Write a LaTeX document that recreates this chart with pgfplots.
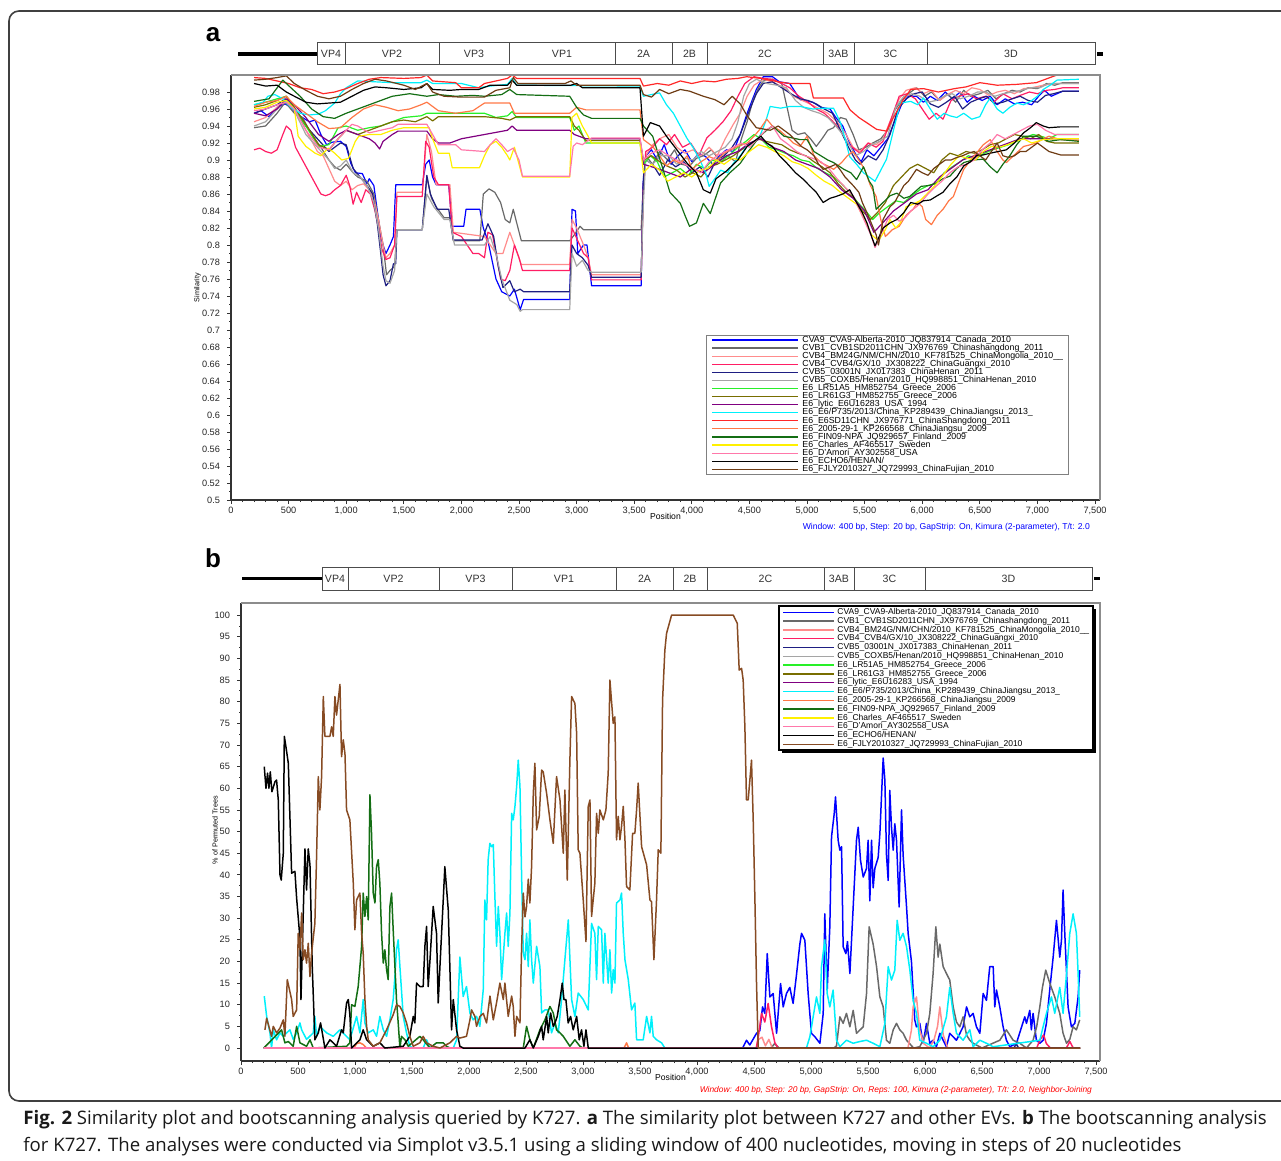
\documentclass[border=0pt]{standalone}
\usepackage{fontspec}
\setmainfont{Liberation Sans}
\newfontfamily\capfont{Open Sans}
\usepackage{pgfplots}
\pgfplotsset{compat=1.18}

\definecolor{cBlue}{RGB}{0,0,255}
\definecolor{cDGray}{RGB}{105,105,105}
\definecolor{cSalmon}{RGB}{255,140,140}
\definecolor{cCrimson}{RGB}{255,30,100}
\definecolor{cNavy}{RGB}{30,30,130}
\definecolor{cLGray}{RGB}{165,165,165}
\definecolor{cLime}{RGB}{40,240,40}
\definecolor{cOlive}{RGB}{120,110,0}
\definecolor{cPurple}{RGB}{128,0,128}
\definecolor{cCyan}{RGB}{0,240,250}
\definecolor{cRed}{RGB}{255,40,40}
\definecolor{cOrange}{RGB}{255,120,70}
\definecolor{cDGreen}{RGB}{20,110,20}
\definecolor{cYellow}{RGB}{255,240,0}
\definecolor{cPink}{RGB}{255,120,170}
\definecolor{cBrown}{RGB}{110,60,20}
\definecolor{cBrownB}{RGB}{135,75,35}

\pgfplotsset{
  panel/.style={
    scale only axis, anchor=south west,
    axis x line*=bottom, axis y line*=left,
    axis line style={black!80, line width=0.6pt},
    tick align=outside,
    major tick length=2pt, minor tick length=1pt,
    every tick/.style={black!80, line width=0.4pt},
    tick label style={font=\fontsize{4.6}{5}\selectfont, text=black!85},
    xticklabel style={yshift=2pt},
    xtick={0,500,...,7500}, minor x tick num=4,
    /pgf/number format/1000 sep={,},
    /pgf/number format/assume math mode=true,
    label style={font=\fontsize{4.3}{5}\selectfont},
    no markers,
    every axis plot/.append style={line join=round},
    after end axis/.code={\draw[black!45, line width=0.6pt] (rel axis cs:0,1) -- (rel axis cs:1,1) -- (rel axis cs:1,0);},
  },
}
% legend rows (drawn by hand beside the axes)
\newcommand\legA[3]{\draw[#1, line width=0.6pt] (712,#2) -- (798,#2);
  \node[anchor=west, inner sep=0pt, font=\fontsize{4.4}{4.6}\selectfont] at (802,#2) {#3};}
\newcommand\legB[3]{\draw[#1, line width=0.75pt] (783,#2) -- (834,#2);
  \node[anchor=west, inner sep=0pt, font=\fontsize{4.25}{4.5}\selectfont] at (837,#2) {#3};}

\begin{document}
\begin{tikzpicture}
\path[use as bounding box] (0,0) rectangle (640.5pt,-580.5pt);

% ---------------- panel a: similarity plot ----------------
\begin{axis}[panel,
  at={(115.5pt,-250pt)}, width=434.5pt, height=212.5pt,
  xmin=0, xmax=7543, ymin=0.5, ymax=1.0,
  ytick={0.5,0.52,0.54,0.56,0.58,0.6,0.62,0.64,0.66,0.68,0.7,0.72,0.74,0.76,0.78,0.8,0.82,0.84,0.86,0.88,0.9,0.92,0.94,0.96,0.98},
  minor y tick num=1,
  xlabel={Position}, ylabel={Similarity},
  xlabel style={at={(axis description cs:0.5,0)}, anchor=center, yshift=-8pt},
  ylabel style={at={(axis description cs:-0.0385,0.5)}, anchor=center, font=\fontsize{3.6}{4}\selectfont},
  every axis plot/.append style={line width=0.6pt},
]
\addplot[cBlue] coordinates {(200,.955)(260,.958)(330,.951)(400,.962)(470,.966)(520,.962)(560,.955)(620,.950)(680,.945)(730,.947)(780,.930)(830,.918)(880,.921)(950,.922)(1000,.916)(1040,.896)(1080,.885)(1140,.884)(1180,.872)(1200,.878)(1240,.870)(1270,.840)(1300,.810)(1320,.800)(1345,.790)(1380,.800)(1410,.810)(1430,.871)(1660,.871)(1690,.895)(1720,.900)(1750,.880)(1780,.871)(1890,.871)(1920,.822)(2020,.822)(2040,.842)(2160,.842)(2190,.820)(2230,.805)(2300,.760)(2350,.745)(2420,.740)(2460,.748)(2510,.724)(2540,.736)(2940,.736)(2960,.842)(2990,.840)(3010,.790)(3060,.800)(3090,.800)(3130,.752)(3560,.752)(3575,.870)(3600,.905)(3650,.912)(3700,.900)(3760,.918)(3820,.895)(3880,.905)(3940,.912)(4000,.898)(4060,.908)(4120,.904)(4180,.895)(4240,.905)(4300,.912)(4360,.910)(4420,.930)(4480,.955)(4560,.983)(4620,.998)(4700,.998)(4760,.992)(4850,.990)(4940,.971)(5050,.968)(5120,.962)(5200,.960)(5250,.950)(5310,.940)(5370,.920)(5430,.905)(5470,.898)(5520,.912)(5580,.905)(5640,.915)(5700,.925)(5760,.945)(5820,.965)(5880,.975)(5950,.975)(6010,.968)(6070,.975)(6130,.970)(6200,.980)(6260,.972)(6330,.980)(6390,.968)(6450,.975)(6520,.970)(6590,.975)(6650,.965)(6720,.972)(6800,.966)(6870,.968)(6950,.965)(7010,.975)(7060,.982)(7120,.975)(7170,.978)(7220,.981)(7360,.981)};
\addplot[cDGray] coordinates {(200,.938)(300,.940)(400,.955)(470,.968)(550,.955)(620,.950)(700,.930)(780,.915)(850,.900)(900,.892)(950,.888)(1000,.895)(1060,.885)(1100,.880)(1180,.875)(1240,.860)(1280,.830)(1320,.800)(1350,.765)(1380,.770)(1420,.775)(1440,.818)(1660,.818)(1700,.880)(1740,.855)(1780,.845)(1850,.832)(1900,.832)(1930,.805)(2160,.805)(2190,.860)(2240,.866)(2290,.862)(2340,.850)(2380,.830)(2420,.826)(2450,.842)(2480,.826)(2520,.805)(2940,.805)(2980,.812)(3030,.822)(3060,.818)(3560,.818)(3575,.860)(3600,.905)(3660,.895)(3720,.910)(3790,.900)(3850,.912)(3910,.895)(3980,.893)(4040,.902)(4100,.905)(4170,.912)(4240,.900)(4310,.905)(4380,.898)(4430,.925)(4480,.945)(4530,.970)(4580,.985)(4620,.993)(4700,.995)(4780,.990)(4830,.960)(4870,.935)(4920,.930)(4980,.932)(5030,.925)(5080,.916)(5130,.925)(5180,.935)(5230,.938)(5290,.950)(5340,.948)(5400,.930)(5450,.912)(5510,.915)(5570,.920)(5640,.925)(5700,.935)(5760,.958)(5820,.970)(5880,.978)(5950,.985)(6020,.975)(6080,.980)(6150,.970)(6220,.978)(6290,.968)(6360,.982)(6420,.975)(6500,.978)(6570,.982)(6640,.972)(6710,.978)(6780,.982)(6850,.980)(6920,.985)(7000,.984)(7080,.990)(7150,.988)(7220,.991)(7360,.991)};
\addplot[cSalmon] coordinates {(200,.945)(300,.950)(400,.962)(470,.970)(550,.962)(650,.935)(750,.910)(800,.905)(850,.890)(900,.875)(950,.870)(1000,.875)(1050,.865)(1100,.870)(1150,.872)(1200,.865)(1240,.855)(1280,.830)(1320,.800)(1345,.785)(1380,.790)(1420,.800)(1440,.862)(1660,.862)(1700,.930)(1740,.910)(1780,.871)(1900,.871)(1930,.815)(2200,.810)(2250,.800)(2300,.790)(2360,.790)(2420,.815)(2460,.800)(2520,.777)(2940,.777)(2960,.830)(3000,.820)(3060,.800)(3100,.785)(3130,.765)(3560,.765)(3580,.870)(3600,.905)(3660,.918)(3720,.925)(3800,.930)(3870,.915)(3940,.908)(4010,.912)(4080,.905)(4150,.915)(4220,.905)(4290,.925)(4360,.942)(4420,.955)(4480,.975)(4540,.988)(4620,.995)(4700,.992)(4800,.985)(4880,.975)(4960,.970)(5040,.965)(5110,.960)(5180,.955)(5260,.945)(5330,.932)(5400,.915)(5460,.910)(5530,.920)(5600,.918)(5660,.925)(5740,.952)(5800,.972)(5860,.982)(5940,.985)(6010,.978)(6080,.982)(6150,.970)(6220,.977)(6290,.982)(6360,.978)(6430,.985)(6500,.983)(6580,.976)(6650,.980)(6720,.982)(6800,.978)(6880,.984)(6950,.985)(7050,.988)(7150,.990)(7360,.990)};
\addplot[cCrimson] coordinates {(200,.912)(250,.914)(300,.910)(350,.908)(400,.912)(450,.930)(480,.940)(520,.935)(560,.915)(620,.900)(680,.885)(740,.870)(780,.860)(820,.858)(860,.860)(900,.865)(950,.870)(1000,.882)(1030,.870)(1060,.848)(1090,.862)(1130,.850)(1170,.865)(1210,.860)(1250,.840)(1280,.820)(1310,.795)(1345,.783)(1380,.785)(1420,.800)(1440,.857)(1660,.857)(1690,.922)(1720,.915)(1760,.880)(1800,.871)(1890,.871)(1920,.815)(2000,.810)(2100,.790)(2150,.790)(2200,.785)(2230,.815)(2270,.812)(2300,.790)(2340,.760)(2380,.758)(2420,.770)(2460,.800)(2500,.785)(2530,.770)(2940,.770)(2960,.820)(3000,.808)(3060,.790)(3100,.785)(3130,.759)(3560,.759)(3580,.870)(3600,.910)(3660,.915)(3720,.925)(3780,.918)(3850,.930)(3920,.915)(3990,.920)(4060,.905)(4130,.926)(4200,.935)(4270,.945)(4340,.958)(4400,.975)(4460,.990)(4540,.998)(4620,.996)(4700,.995)(4780,.990)(4850,.985)(4930,.975)(5010,.968)(5080,.960)(5150,.955)(5220,.946)(5290,.935)(5350,.920)(5420,.912)(5460,.908)(5530,.920)(5600,.915)(5660,.922)(5740,.952)(5800,.975)(5870,.978)(5940,.972)(6000,.960)(6060,.948)(6120,.955)(6180,.948)(6250,.970)(6320,.975)(6400,.978)(6470,.972)(6550,.975)(6620,.968)(6700,.978)(6780,.972)(6850,.976)(6930,.980)(7000,.978)(7080,.982)(7150,.983)(7220,.985)(7360,.985)};
\addplot[cNavy] coordinates {(200,.955)(300,.960)(400,.965)(470,.972)(550,.960)(650,.940)(750,.925)(850,.910)(950,.920)(1000,.918)(1060,.890)(1120,.880)(1180,.870)(1230,.860)(1270,.825)(1300,.790)(1320,.765)(1345,.752)(1380,.758)(1410,.778)(1430,.778)(1440,.818)(1660,.818)(1700,.882)(1730,.860)(1790,.842)(1890,.842)(1930,.806)(2180,.806)(2230,.825)(2280,.810)(2320,.775)(2360,.750)(2420,.758)(2460,.745)(2510,.748)(2540,.745)(2940,.745)(2960,.800)(3000,.790)(3050,.785)(3100,.776)(3130,.762)(3560,.762)(3580,.880)(3600,.900)(3660,.895)(3720,.882)(3790,.900)(3860,.892)(3930,.898)(4000,.885)(4070,.892)(4140,.880)(4210,.900)(4280,.905)(4350,.915)(4420,.930)(4490,.955)(4560,.978)(4620,.990)(4700,.992)(4780,.985)(4860,.978)(4940,.972)(5010,.970)(5080,.966)(5150,.960)(5220,.955)(5290,.935)(5360,.915)(5420,.900)(5460,.895)(5530,.905)(5600,.900)(5660,.912)(5720,.930)(5790,.960)(5860,.972)(5930,.978)(6000,.980)(6070,.966)(6140,.962)(6210,.968)(6280,.975)(6350,.960)(6420,.968)(6490,.972)(6560,.975)(6630,.966)(6700,.968)(6780,.972)(6850,.975)(6920,.970)(7000,.968)(7070,.976)(7140,.978)(7220,.981)(7360,.981)};
\addplot[cLGray] coordinates {(200,.940)(300,.945)(400,.960)(470,.970)(550,.958)(650,.930)(750,.915)(850,.900)(900,.890)(950,.893)(1000,.900)(1060,.885)(1120,.880)(1180,.870)(1240,.850)(1280,.820)(1320,.775)(1345,.758)(1380,.755)(1420,.770)(1440,.818)(1660,.818)(1700,.860)(1760,.845)(1850,.830)(1900,.830)(1940,.800)(2200,.800)(2250,.810)(2300,.790)(2350,.760)(2420,.735)(2480,.730)(2510,.722)(2530,.724)(2940,.724)(2960,.790)(3000,.775)(3050,.782)(3100,.770)(3130,.768)(3560,.768)(3580,.850)(3600,.900)(3660,.895)(3730,.905)(3800,.905)(3870,.895)(3940,.902)(4010,.900)(4080,.910)(4150,.905)(4220,.910)(4290,.915)(4350,.925)(4400,.945)(4450,.975)(4500,.990)(4560,.995)(4650,.990)(4740,.988)(4820,.985)(4900,.970)(4970,.962)(5040,.958)(5110,.955)(5180,.950)(5250,.940)(5310,.930)(5380,.915)(5420,.905)(5490,.910)(5560,.918)(5630,.922)(5700,.928)(5770,.962)(5840,.975)(5910,.978)(5980,.975)(6050,.968)(6120,.970)(6190,.975)(6260,.978)(6330,.972)(6400,.975)(6480,.980)(6550,.980)(6630,.975)(6700,.978)(6780,.980)(6860,.982)(6940,.985)(7020,.985)(7100,.990)(7180,.990)(7360,.990)};
\addplot[cLime] coordinates {(200,.965)(300,.968)(400,.972)(480,.975)(550,.960)(650,.940)(760,.916)(850,.918)(930,.938)(1000,.940)(1100,.935)(1200,.938)(1300,.940)(1400,.945)(1500,.950)(1650,.952)(1700,.955)(1800,.955)(2000,.955)(2200,.955)(2300,.950)(2400,.952)(2440,.957)(2480,.950)(2940,.950)(2980,.935)(3020,.940)(3080,.920)(3550,.920)(3580,.895)(3640,.905)(3700,.898)(3760,.880)(3830,.885)(3900,.890)(3970,.882)(4040,.895)(4110,.890)(4180,.900)(4250,.898)(4320,.905)(4400,.915)(4470,.922)(4540,.930)(4600,.925)(4670,.915)(4740,.912)(4810,.908)(4880,.905)(4950,.900)(5020,.898)(5090,.890)(5160,.885)(5230,.880)(5300,.872)(5370,.862)(5440,.850)(5510,.840)(5570,.830)(5630,.838)(5700,.845)(5770,.852)(5840,.850)(5910,.858)(5980,.865)(6050,.870)(6120,.872)(6190,.885)(6260,.892)(6330,.898)(6400,.905)(6470,.902)(6540,.908)(6610,.912)(6680,.915)(6750,.918)(6820,.922)(6890,.926)(6960,.930)(7030,.928)(7100,.925)(7170,.930)(7360,.930)};
\addplot[cOlive] coordinates {(200,.962)(300,.965)(400,.970)(480,.975)(550,.962)(650,.942)(760,.918)(850,.912)(930,.925)(1000,.935)(1100,.930)(1200,.935)(1300,.940)(1400,.945)(1500,.947)(1600,.945)(1700,.951)(1750,.946)(1800,.951)(2000,.951)(2200,.951)(2350,.949)(2420,.947)(2480,.951)(2940,.951)(2980,.940)(3020,.935)(3080,.923)(3550,.923)(3580,.900)(3650,.905)(3720,.898)(3800,.892)(3870,.888)(3940,.880)(4010,.885)(4080,.880)(4150,.892)(4220,.895)(4290,.900)(4360,.905)(4430,.912)(4500,.918)(4570,.925)(4640,.922)(4710,.920)(4780,.918)(4850,.912)(4920,.908)(4990,.905)(5060,.898)(5130,.892)(5200,.885)(5270,.872)(5340,.862)(5410,.855)(5480,.840)(5550,.830)(5610,.838)(5680,.850)(5750,.870)(5820,.880)(5890,.890)(5960,.895)(6030,.890)(6100,.885)(6170,.900)(6240,.908)(6310,.905)(6380,.910)(6450,.908)(6520,.912)(6590,.918)(6660,.920)(6730,.925)(6800,.930)(6870,.928)(6940,.925)(7010,.930)(7080,.922)(7150,.920)(7360,.920)};
\addplot[cPurple] coordinates {(200,.955)(300,.952)(400,.960)(480,.972)(550,.965)(650,.950)(760,.930)(850,.922)(930,.930)(1000,.935)(1100,.930)(1200,.925)(1250,.920)(1290,.913)(1320,.922)(1400,.930)(1450,.934)(1700,.934)(1750,.925)(1800,.920)(1900,.920)(2000,.925)(2200,.930)(2400,.935)(2440,.940)(2480,.935)(2940,.935)(2980,.930)(3080,.925)(3550,.925)(3580,.895)(3700,.890)(3800,.885)(3900,.880)(4000,.890)(4100,.885)(4200,.895)(4300,.905)(4400,.910)(4500,.920)(4600,.925)(4700,.915)(4800,.910)(4900,.900)(5000,.895)(5100,.890)(5200,.880)(5300,.865)(5400,.855)(5500,.840)(5580,.815)(5650,.825)(5750,.840)(5850,.850)(5950,.860)(6050,.865)(6150,.880)(6250,.890)(6350,.900)(6450,.905)(6550,.910)(6650,.915)(6750,.920)(6850,.925)(6950,.925)(7100,.925)(7360,.925)};
\addplot[cCyan] coordinates {(200,.965)(280,.968)(320,.975)(380,.977)(450,.972)(520,.962)(600,.955)(680,.953)(760,.954)(820,.958)(900,.967)(950,.978)(1000,.985)(1100,.993)(1250,.992)(1400,.991)(1650,.991)(1700,.994)(1750,.990)(2000,.990)(2150,.985)(2250,.987)(2400,.989)(2440,.996)(2480,.988)(3550,.987)(3580,.975)(3720,.979)(3780,.965)(3840,.955)(3900,.940)(3960,.925)(4010,.915)(4070,.900)(4120,.885)(4150,.869)(4200,.878)(4250,.888)(4310,.885)(4360,.896)(4420,.905)(4475,.916)(4530,.920)(4590,.928)(4640,.945)(4680,.963)(4770,.961)(4850,.963)(4940,.963)(5050,.960)(5150,.961)(5230,.961)(5290,.944)(5330,.925)(5370,.904)(5430,.895)(5490,.885)(5540,.880)(5590,.875)(5640,.888)(5690,.901)(5750,.935)(5810,.967)(5900,.969)(5960,.965)(6010,.973)(6070,.960)(6130,.948)(6190,.955)(6240,.952)(6300,.950)(6360,.955)(6430,.948)(6500,.951)(6550,.965)(6590,.973)(6650,.960)(6700,.955)(6760,.962)(6820,.967)(6880,.965)(6940,.969)(7000,.975)(7050,.983)(7110,.988)(7170,.994)(7360,.995)};
\addplot[cRed] coordinates {(200,.997)(300,.996)(400,.993)(500,.990)(600,.985)(700,.983)(800,.978)(900,.980)(1000,.984)(1100,.990)(1200,.995)(1300,.997)(1500,.996)(1650,.997)(1700,1.0)(1750,.993)(1950,.991)(2000,.985)(2150,.985)(2200,.990)(2300,.993)(2400,.996)(2440,1.0)(2480,.996)(3550,.996)(3580,.987)(3700,.990)(3800,.988)(3900,.993)(4000,.990)(4100,.993)(4200,.992)(4300,.995)(4400,.996)(4475,.998)(4600,.996)(4750,.992)(4850,.990)(5026,.990)(5055,.973)(5315,.973)(5373,.959)(5450,.950)(5517,.944)(5605,.936)(5690,.934)(5750,.950)(5836,.971)(5900,.983)(6010,.984)(6140,.980)(6280,.984)(6380,.986)(6500,.991)(6650,.988)(6820,.989)(6990,.991)(7109,.997)(7170,1.0)(7360,1.0)};
\addplot[cOrange] coordinates {(200,.963)(300,.968)(400,.970)(480,.975)(550,.965)(650,.955)(750,.945)(850,.937)(950,.938)(1050,.950)(1150,.960)(1250,.965)(1350,.962)(1450,.958)(1550,.960)(1650,.965)(1700,.968)(1800,.958)(1950,.955)(2100,.958)(2200,.967)(2420,.967)(2460,.955)(2940,.955)(3000,.962)(3080,.959)(3550,.959)(3580,.924)(3660,.916)(3720,.905)(3780,.893)(3840,.900)(3900,.896)(3960,.905)(4000,.889)(4080,.898)(4150,.904)(4220,.900)(4280,.908)(4340,.912)(4400,.916)(4480,.920)(4540,.928)(4590,.936)(4650,.948)(4700,.940)(4760,.935)(4820,.928)(4880,.920)(4940,.916)(5000,.928)(5060,.905)(5120,.897)(5180,.893)(5230,.889)(5300,.897)(5350,.905)(5400,.910)(5450,.900)(5500,.889)(5550,.870)(5600,.857)(5640,.830)(5680,.810)(5740,.818)(5800,.822)(5860,.835)(5920,.842)(5960,.850)(6000,.845)(6030,.830)(6080,.824)(6130,.835)(6180,.842)(6230,.852)(6270,.857)(6320,.875)(6360,.889)(6420,.900)(6470,.908)(6530,.918)(6590,.924)(6650,.910)(6700,.900)(6730,.897)(6800,.906)(6880,.916)(6940,.918)(6990,.920)(7050,.925)(7100,.928)(7200,.924)(7360,.923)};
\addplot[cDGreen] coordinates {(200,.969)(330,.972)(450,.994)(520,.985)(600,.975)(700,.960)(800,.951)(900,.949)(1000,.955)(1100,.960)(1200,.965)(1300,.970)(1400,.975)(1550,.978)(1700,.975)(1800,.977)(1950,.975)(2100,.976)(2200,.975)(2350,.977)(2420,.983)(2480,.977)(2940,.975)(3000,.962)(3060,.953)(3130,.949)(3550,.949)(3580,.940)(3660,.928)(3750,.889)(3810,.862)(3900,.849)(3940,.835)(3980,.822)(4040,.826)(4100,.849)(4160,.837)(4250,.873)(4330,.885)(4420,.896)(4480,.908)(4590,.928)(4650,.935)(4700,.940)(4800,.928)(4940,.924)(5000,.924)(5060,.910)(5120,.905)(5180,.900)(5230,.897)(5320,.889)(5380,.885)(5430,.877)(5490,.892)(5540,.875)(5570,.869)(5600,.842)(5660,.850)(5720,.858)(5780,.861)(5840,.855)(5890,.857)(5990,.869)(6060,.870)(6120,.873)(6180,.878)(6240,.881)(6300,.890)(6360,.897)(6440,.900)(6530,.901)(6590,.892)(6650,.885)(6700,.895)(6760,.905)(6820,.918)(6880,.928)(6990,.928)(7100,.922)(7200,.924)(7360,.922)};
\addplot[cYellow] coordinates {(200,.960)(300,.962)(400,.968)(480,.970)(550,.960)(583,.928)(650,.916)(730,.908)(780,.905)(845,.914)(900,.908)(962,.900)(1020,.902)(1079,.922)(1110,.928)(1200,.930)(1300,.930)(1400,.935)(1500,.938)(1720,.938)(1750,.925)(1800,.908)(1895,.908)(1920,.891)(2157,.891)(2200,.905)(2250,.918)(2300,.922)(2350,.915)(2400,.905)(2420,.900)(2460,.915)(2500,.895)(2530,.880)(2940,.880)(2960,.950)(3000,.955)(3050,.940)(3100,.928)(3130,.920)(3550,.920)(3580,.885)(3650,.895)(3720,.888)(3790,.875)(3860,.880)(3930,.885)(4000,.880)(4070,.888)(4140,.890)(4210,.900)(4280,.895)(4350,.902)(4420,.900)(4500,.910)(4580,.918)(4650,.915)(4720,.910)(4800,.905)(4870,.898)(4940,.895)(5010,.890)(5080,.882)(5150,.875)(5220,.870)(5290,.862)(5360,.855)(5430,.848)(5500,.830)(5560,.812)(5620,.805)(5680,.818)(5720,.830)(5770,.820)(5810,.826)(5860,.845)(5920,.848)(5980,.852)(6040,.860)(6110,.870)(6180,.882)(6250,.895)(6320,.905)(6390,.902)(6460,.900)(6530,.910)(6600,.916)(6670,.915)(6740,.918)(6810,.922)(6880,.925)(6950,.920)(7050,.924)(7150,.925)(7360,.925)};
\addplot[cPink] coordinates {(200,.958)(300,.960)(400,.965)(480,.968)(550,.960)(650,.935)(760,.915)(850,.912)(930,.925)(1000,.935)(1050,.942)(1100,.940)(1200,.932)(1300,.935)(1400,.938)(1450,.942)(1700,.942)(1750,.930)(1800,.918)(1950,.918)(2000,.912)(2200,.910)(2250,.918)(2300,.925)(2350,.918)(2400,.910)(2450,.914)(2500,.900)(2530,.881)(2940,.881)(2970,.916)(3000,.920)(3050,.918)(3130,.926)(3550,.926)(3580,.900)(3650,.908)(3720,.912)(3800,.905)(3870,.900)(3940,.895)(4010,.890)(4080,.885)(4150,.898)(4220,.905)(4290,.910)(4360,.915)(4430,.920)(4500,.915)(4570,.925)(4640,.935)(4700,.940)(4770,.925)(4840,.918)(4910,.910)(4980,.905)(5050,.902)(5120,.898)(5190,.890)(5260,.878)(5330,.868)(5400,.858)(5460,.840)(5520,.822)(5560,.810)(5590,.797)(5650,.815)(5700,.830)(5750,.835)(5800,.828)(5850,.832)(5900,.840)(5950,.845)(6000,.852)(6050,.860)(6110,.868)(6170,.875)(6240,.885)(6310,.892)(6380,.895)(6450,.900)(6520,.912)(6590,.920)(6650,.930)(6720,.925)(6790,.930)(6860,.935)(6930,.940)(7000,.942)(7070,.935)(7150,.930)(7360,.930)};
\addplot[black] coordinates {(200,.990)(300,.987)(400,.988)(480,.980)(550,.975)(650,.968)(750,.966)(850,.967)(950,.968)(1050,.975)(1150,.982)(1250,.986)(1350,.985)(1500,.983)(1650,.985)(1700,.990)(1750,.983)(1900,.982)(2000,.983)(2150,.983)(2250,.988)(2400,.988)(2440,.994)(2480,.988)(2950,.988)(3000,.990)(3050,.985)(3550,.985)(3580,.928)(3640,.944)(3720,.940)(3780,.928)(3870,.912)(3960,.896)(4040,.885)(4100,.865)(4160,.861)(4210,.878)(4300,.887)(4400,.900)(4480,.916)(4540,.922)(4600,.928)(4650,.920)(4700,.916)(4760,.905)(4820,.897)(4900,.885)(4970,.877)(5020,.870)(5080,.862)(5140,.850)(5200,.855)(5250,.857)(5310,.860)(5370,.865)(5430,.850)(5480,.838)(5520,.826)(5560,.810)(5590,.799)(5620,.808)(5660,.820)(5720,.826)(5780,.830)(5840,.838)(5900,.850)(5960,.848)(6010,.852)(6070,.853)(6130,.858)(6180,.862)(6240,.872)(6300,.880)(6360,.893)(6420,.898)(6470,.905)(6530,.906)(6590,.908)(6660,.910)(6730,.912)(6800,.920)(6880,.932)(6940,.938)(6990,.944)(7050,.940)(7100,.938)(7200,.939)(7360,.939)};
\addplot[cBrown] coordinates {(200,.994)(300,.995)(400,.997)(480,.999)(550,.990)(650,.982)(750,.975)(850,.972)(950,.975)(1050,.983)(1150,.990)(1250,.995)(1350,.993)(1500,.988)(1600,.983)(1700,.990)(1750,.980)(1850,.975)(2000,.974)(2200,.974)(2300,.982)(2420,.985)(2450,.997)(2490,.990)(2900,.990)(2950,.993)(3000,.988)(3550,.988)(3580,.977)(3650,.974)(3720,.983)(3800,.978)(3900,.983)(3980,.981)(4100,.975)(4200,.971)(4280,.965)(4350,.975)(4420,.966)(4480,.952)(4560,.938)(4680,.935)(4750,.940)(4850,.930)(4950,.916)(5000,.912)(5060,.905)(5100,.895)(5140,.889)(5200,.892)(5250,.895)(5290,.888)(5330,.880)(5400,.870)(5450,.862)(5480,.850)(5520,.838)(5560,.825)(5600,.812)(5620,.800)(5660,.830)(5720,.845)(5760,.850)(5800,.860)(5840,.870)(5880,.875)(5950,.889)(6000,.885)(6050,.882)(6100,.890)(6150,.895)(6200,.900)(6250,.900)(6300,.903)(6350,.905)(6400,.908)(6450,.910)(6500,.905)(6550,.900)(6600,.910)(6650,.920)(6700,.905)(6750,.903)(6800,.905)(6850,.910)(6900,.910)(6950,.915)(7000,.920)(7050,.915)(7100,.910)(7150,.908)(7200,.906)(7360,.906)};
\end{axis}

% ---------------- panel b: bootscanning ----------------
\begin{axis}[panel,
  at={(120.5pt,-530.5pt)}, width=429.5pt, height=229pt,
  xmin=0, xmax=7535, ymin=-3, ymax=102.8,
  ytick={0,5,...,100}, minor y tick num=1,
  xlabel={Position}, ylabel={\% of Permuted Trees},
  xlabel style={at={(axis description cs:0.5,0)}, anchor=center, yshift=-8pt},
  ylabel style={at={(axis description cs:-0.0303,0.504)}, anchor=center, font=\fontsize{3.6}{4}\selectfont},
  every axis plot/.append style={line width=0.75pt},
]
\addplot[cBlue] coordinates {(200,0)(4400,0)(4434,1.8)(4463,0.7)(4522,3.4)(4551,4)(4575,9.5)(4595,8)(4616,21.8)(4639,11.8)(4668,12.6)(4698,3.4)(4733,14.9)(4756,9.5)(4785,12.6)(4814,14)(4843,10.3)(4873,17)(4902,24)(4917,26.5)(4946,24.9)(4975,12.6)(5004,3.4)(5034,2.6)(5078,1.1)(5107,8)(5121,31)(5142,13.4)(5165,28)(5180,48.8)(5203,54)(5215,58)(5238,48)(5253,45.7)(5268,46.5)(5282,23.4)(5306,21.8)(5320,24.6)(5341,17.2)(5370,32.6)(5399,48)(5414,51)(5434,43.4)(5458,39.5)(5487,41.5)(5501,48)(5516,34)(5531,48)(5545,37)(5560,41.5)(5589,44)(5604,49.5)(5633,67)(5648,61.8)(5662,44.6)(5677,38.7)(5691,59.5)(5706,51)(5721,45.7)(5735,51.8)(5750,48)(5773,32.6)(5794,55)(5808,44.6)(5838,32.6)(5852,26.5)(5881,20)(5910,6.5)(5925,4.9)(5954,5.7)(5983,1.1)(6013,5.7)(6042,1.1)(6071,1.8)(6100,0.3)(6130,3.4)(6159,1.8)(6188,0.3)(6217,3.4)(6276,1.8)(6334,4.9)(6364,9.5)(6393,7.2)(6422,8)(6451,4.9)(6481,3.4)(6510,12.6)(6539,11)(6568,18.8)(6598,18.8)(6612,9.5)(6627,13.4)(6656,9.5)(6685,4.9)(6714,1.8)(6744,0.3)(6802,1.1)(6875,7.2)(6890,5.7)(6919,8.7)(6933,4.2)(6948,8)(6977,1.8)(7007,1.1)(7036,1.8)(7065,5.7)(7094,13.4)(7124,21)(7153,29.5)(7182,21)(7197,24.9)(7211,36.5)(7226,26.5)(7255,9.5)(7284,4.9)(7314,5.7)(7343,11.8)(7357,18)};
\addplot[cDGray] coordinates {(200,0)(4650,0)(4680,1)(4720,0)(5200,0)(5224,0.5)(5253,7.2)(5282,5.7)(5311,8)(5341,4.9)(5370,8.7)(5399,3.4)(5458,4.9)(5487,12.6)(5510,28)(5545,24)(5575,18.8)(5604,11.8)(5633,9.5)(5662,1.8)(5691,1.1)(5721,4.2)(5750,5.7)(5779,4.2)(5808,3.4)(5838,1.8)(5900,0)(5954,0.3)(6013,3.4)(6042,8)(6071,17.2)(6095,28)(6115,21)(6130,24)(6159,18.8)(6188,17.2)(6217,15.7)(6247,9.5)(6276,6)(6305,4.9)(6334,7.2)(6364,3)(6393,1.8)(6422,1.1)(6500,0)(6656,1.8)(6714,4.2)(6773,1.8)(6831,1.1)(6890,0)(6948,1.8)(6980,5)(7007,9.5)(7030,14)(7059,18)(7094,15)(7138,11.8)(7182,8)(7211,3.4)(7241,1.1)(7270,2)(7299,4.9)(7328,4.2)(7357,6.5)};
\addplot[cSalmon] coordinates {(200,0)(4520,0)(4540,2)(4570,2.5)(4600,0.5)(4630,2)(4660,0)(5850,0)(5880,4)(5896,9.5)(5925,11.8)(5954,4)(5990,1)(6040,0)(6080,2)(6110,5)(6130,9.5)(6160,3)(6200,0)(7360,0)};
\addplot[cCrimson] coordinates {(200,0)(4520,0)(4540,3)(4566,8)(4595,6)(4624,10.3)(4653,5)(4683,1.2)(4712,0)(6980,0)(7010,2)(7040,3)(7065,1)(7100,0)(7240,0)(7270,1.5)(7300,0)(7360,0)};
\addplot[cNavy] coordinates {(200,0)(6780,0)(6800,1)(6820,0)(7360,0)};
\addplot[cLGray] coordinates {(200,0)(7360,0)};
\addplot[cLime] coordinates {(200,0)(7360,0)};
\addplot[cOlive] coordinates {(200,0)(7360,0)};
\addplot[cPurple] coordinates {(200,0)(7360,0)};
\addplot[cCyan] coordinates {(204,12)(225,7.3)(254,3.5)(268,0)(283,4.2)(312,1.9)(342,3.5)(371,2.7)(400,3.5)(429,4.2)(458,2)(488,3.5)(517,5.8)(532,4.2)(575,2)(634,3.5)(648,7.3)(663,2.7)(692,5)(751,3.5)(809,2.7)(868,4.2)(955,1.9)(1014,7.3)(1043,3.5)(1072,11.2)(1087,5.8)(1116,3.5)(1160,4.2)(1189,2.7)(1218,7.3)(1248,4.2)(1277,2.7)(1306,6.5)(1335,11.2)(1350,16.5)(1364,22.7)(1379,25)(1394,18.8)(1423,7.3)(1452,3.5)(1481,0.4)(1511,0)(1598,0)(1628,1.9)(1657,0)(1862,0)(1891,1.9)(1920,21)(1949,11.9)(1978,14.2)(2008,8.1)(2037,6.5)(2066,7.3)(2095,5)(2125,13.5)(2139,34.2)(2154,29.6)(2168,43.5)(2183,47.3)(2198,46.5)(2213,47)(2227,35)(2242,23.5)(2257,32.7)(2271,26.5)(2286,15.8)(2315,26.5)(2330,31.2)(2344,23.5)(2359,31.2)(2374,54.2)(2388,52.7)(2403,55.8)(2418,60.4)(2432,66.5)(2447,60.4)(2461,40.4)(2476,21.9)(2491,20.4)(2505,26.5)(2520,18.8)(2534,29.6)(2549,20.4)(2564,15)(2593,23.5)(2622,18.8)(2637,8.1)(2666,8.8)(2695,8.8)(2724,3.5)(2754,5.8)(2783,3.5)(2812,11.2)(2841,20.4)(2871,29.6)(2900,11.2)(2929,7.3)(2958,12.7)(3002,11.2)(3046,8.8)(3075,28.8)(3104,26.5)(3119,15.8)(3134,28.1)(3163,27.3)(3178,15)(3192,26.5)(3221,15)(3236,22.7)(3251,12.7)(3265,18.1)(3280,15)(3294,33.5)(3324,34.2)(3338,35.8)(3353,26.5)(3368,20.4)(3397,15.8)(3426,8.8)(3455,10.4)(3470,1.9)(3528,1.9)(3558,7.3)(3587,3.5)(3601,7.3)(3616,2.7)(3645,1.9)(3689,1.2)(3718,0)(4960,0)(4990,2.6)(5048,11.8)(5078,8)(5092,18.8)(5121,25)(5142,12.6)(5165,9.5)(5194,13.4)(5224,1.8)(5253,0.3)(5311,1.8)(5370,1.1)(5428,1.5)(5487,1.8)(5545,1.1)(5604,0.3)(5648,5.7)(5677,18.8)(5706,15.7)(5735,18)(5756,29.5)(5779,24.9)(5808,26.5)(5838,23.4)(5867,18)(5896,11)(5925,8)(5954,1.8)(6013,1.1)(6071,0.3)(6130,1.8)(6188,7.2)(6217,14)(6247,8)(6276,3.4)(6334,1.8)(6393,4.2)(6422,0.3)(6481,1.8)(6539,1.1)(6598,0.3)(7007,1.8)(7065,8)(7109,11.8)(7138,8)(7182,14)(7211,8)(7241,17)(7270,26.5)(7299,31)(7328,26.5)(7343,17.2)(7357,7.2)};
\addplot[cOrange] coordinates {(200,0)(990,0)(1014,1)(1043,1.2)(1072,0.8)(1100,0)(3360,0)(3382,1.2)(3400,0)(7360,0)};
\addplot[cDGreen] coordinates {(200,0)(356,4.2)(385,1.2)(415,1.5)(458,0.4)(488,5)(517,1.2)(575,0.4)(605,1.9)(634,0)(926,0.4)(955,1.2)(970,10)(999,9.6)(1028,14.2)(1043,18.8)(1058,23.5)(1072,35.8)(1087,30.4)(1102,35)(1116,29.6)(1131,58.5)(1145,49.6)(1160,35.8)(1175,33.5)(1189,41.9)(1204,43.5)(1218,38.1)(1233,26.5)(1248,19.6)(1262,22.7)(1277,18.1)(1291,15.8)(1306,32.7)(1321,35.8)(1335,27.3)(1364,11.2)(1379,5.8)(1394,0)(1408,2.7)(1438,1.9)(1467,0.4)(1569,2.7)(1598,1.9)(1657,0)(1715,1.2)(1774,1.2)(1803,0.4)(1832,0)(2476,0)(2505,5)(2534,1.9)(2564,0)(2622,4.2)(2666,6.5)(2710,9.6)(2739,8.1)(2768,4.2)(2798,3.5)(2827,2.7)(2885,0.4)(2929,1.9)(2973,0.4)(3000,0)(7360,0)};
\addplot[cYellow] coordinates {(200,0)(7360,0)};
\addplot[cPink] coordinates {(200,0)(7360,0)};
\addplot[black] coordinates {(204,65)(219,60)(233,63.5)(245,60)(257,63.8)(271,59.2)(298,61.5)(312,61.9)(327,57.3)(342,40)(353,38.8)(371,45)(380,72)(394,69.6)(415,65.8)(444,40.4)(473,40.8)(488,34.6)(517,25.4)(526,11.2)(540,25)(561,46)(575,36.5)(590,46)(605,42.3)(625,18.8)(648,1.9)(678,3.5)(698,5.8)(736,0)(780,1.9)(809,1.2)(838,0.4)(882,4.2)(897,3.5)(926,10.4)(941,11.2)(955,7.7)(970,0)(1043,1.9)(1072,4.2)(1102,1.9)(1160,0.4)(1218,1.2)(1262,0)(1423,0.4)(1481,2.7)(1511,7.3)(1525,5.8)(1540,15)(1569,14.2)(1598,14.2)(1613,23.5)(1628,28.1)(1642,14.2)(1657,20)(1686,32.7)(1715,26.5)(1730,10.4)(1745,18.8)(1774,34.2)(1788,41.9)(1818,31.9)(1832,18.8)(1847,4.2)(1862,11.2)(1891,4.2)(1920,0.4)(1949,0)(2491,0)(2534,1.9)(2564,0)(2608,2.7)(2637,5)(2651,1.9)(2681,7.3)(2695,3.5)(2716,8.1)(2739,5)(2754,5.8)(2774,7.3)(2798,11.2)(2818,15)(2833,11.2)(2850,11.2)(2870,5.8)(2891,7.3)(2914,4.2)(2944,7.3)(2967,1.9)(2987,4.2)(3008,0.4)(3026,4.2)(3046,0)(7360,0)};
\addplot[cBrownB] coordinates {(210,4.2)(225,6.9)(268,2.7)(283,5)(312,3.5)(342,4.6)(371,6.5)(385,2.7)(406,15.8)(444,11.2)(458,7.3)(488,8.8)(502,26.5)(517,22.7)(532,31.2)(546,20.4)(561,22.7)(575,19.6)(590,24.2)(605,16.5)(619,21.9)(648,28.8)(663,44.2)(678,62.7)(692,55)(707,62.7)(722,81.2)(736,72)(780,72)(795,74.2)(809,72)(824,81.2)(838,76.9)(853,80.4)(868,84)(882,67.3)(897,71.2)(912,68)(926,55)(955,52.7)(985,38.1)(999,27.3)(1014,34.2)(1043,35.8)(1058,26.5)(1072,21.9)(1087,11.2)(1102,5)(1116,1.9)(1160,0.4)(1218,1.2)(1277,4.2)(1335,7.7)(1364,10)(1394,9.6)(1423,8.1)(1452,5.8)(1481,2.7)(1511,0.4)(1569,1.2)(1598,2.7)(1628,1.2)(1686,0.4)(1745,0)(1832,1.2)(1891,2.7)(1920,2.3)(1978,2.7)(2008,6.5)(2022,8.8)(2052,7.3)(2066,5)(2096,7.3)(2125,8)(2154,5.8)(2184,12)(2213,6.5)(2242,10.5)(2271,15)(2301,11.2)(2315,15)(2344,7.3)(2374,12)(2388,9.6)(2403,2.7)(2418,7.3)(2447,5.8)(2461,22.7)(2476,35.8)(2491,30.3)(2505,32.7)(2520,39)(2534,33.5)(2549,41.9)(2564,58.8)(2578,65.8)(2593,50.4)(2616,53.5)(2637,64.2)(2651,63.8)(2681,58.8)(2710,52.7)(2739,47.3)(2768,62.7)(2798,57.3)(2827,45)(2841,59.6)(2862,38.8)(2885,66.5)(2900,81.2)(2929,79.6)(2944,72.7)(2958,45.8)(2973,45)(3002,34.2)(3026,24.6)(3046,55.8)(3061,57.3)(3075,30.4)(3104,38.1)(3119,54.2)(3134,49.6)(3148,55)(3178,52.7)(3201,55)(3221,63.5)(3236,85)(3265,75)(3280,76.5)(3294,48.1)(3309,53.5)(3324,48.1)(3338,51.2)(3353,55.8)(3368,48.1)(3382,37.3)(3411,36.5)(3435,49.6)(3455,49.6)(3470,55)(3484,61.2)(3514,46.5)(3558,42.3)(3587,34.2)(3601,33.8)(3622,20.4)(3645,34.2)(3660,45.8)(3683,45)(3698,80.4)(3718,91.9)(3733,95.8)(3777,100)(4318,100)(4353,98.1)(4370,87.3)(4391,87.7)(4405,85)(4420,74.2)(4434,57.3)(4449,57.3)(4464,62)(4478,66.5)(4493,52.7)(4508,34.2)(4522,15)(4537,0)(7360,0)};
\end{axis}

% ---------------- frame, gene maps, legends, labels, caption ----------------
\begin{scope}[x=0.5pt, y=-0.5pt]
\draw[black!75, line width=0.8pt, rounded corners=5pt] (1300,11) -- (9,11) -- (9,1101) -- (1300,1101);
\node[font=\bfseries\fontsize{13}{13}\selectfont] at (213,35) {a};
\node[font=\bfseries\fontsize{13}{13}\selectfont] at (213,558) {b};
% gene map a
\draw[line width=1.6pt] (238,54) -- (317,54);
\draw[line width=1.6pt] (1097,54) -- (1103,54);
\draw[black!70, fill=white, line width=0.5pt] (317,43) rectangle (1095,65);
\foreach \b in {345,439,509,615,672,707,823,854,927} \draw[black!70, line width=0.5pt] (\b,43) -- (\b,65);
\begin{scope}[every node/.style={font=\fontsize{5.3}{6}\selectfont, text=black!80, inner sep=0pt}]
\node at (331,54) {VP4}; \node at (392,54) {VP2}; \node at (474,54) {VP3}; \node at (562,54) {VP1};
\node at (643.5,54) {2A}; \node at (689.5,54) {2B}; \node at (765,54) {2C}; \node at (838.5,54) {3AB};
\node at (890.5,54) {3C}; \node at (1011,54) {3D};
\end{scope}
% gene map b
\draw[line width=1.6pt] (242,578.5) -- (322,578.5);
\draw[line width=1.6pt] (1094,578.5) -- (1100,578.5);
\draw[black!70, fill=white, line width=0.5pt] (322,567) rectangle (1092,590);
\foreach \b in {348,439,512,616,673,707,824,854,925} \draw[black!70, line width=0.5pt] (\b,567) -- (\b,590);
\begin{scope}[every node/.style={font=\fontsize{5.3}{6}\selectfont, text=black!80, inner sep=0pt}]
\node at (335,578.5) {VP4}; \node at (393.5,578.5) {VP2}; \node at (475.5,578.5) {VP3}; \node at (564,578.5) {VP1};
\node at (644.5,578.5) {2A}; \node at (690,578.5) {2B}; \node at (765.5,578.5) {2C}; \node at (839,578.5) {3AB};
\node at (889.5,578.5) {3C}; \node at (1008.5,578.5) {3D};
\end{scope}
% legend a
\draw[black!50, fill=white, line width=0.5pt] (706,335) rectangle (1068,474);
\legA{cBlue}{340}{CVA9\_CVA9-Alberta-2010\_JQ837914\_Canada\_2010}
\legA{cDGray}{348.08}{CVB1\_CVB1SD2011CHN\_JX976769\_Chinashangdong\_2011}
\legA{cSalmon}{356.16}{CVB4\_BM24G/NM/CHN/2010\_KF781525\_ChinaMongolia\_2010\_\_}
\legA{cCrimson}{364.24}{CVB4\_CVB4/GX/10\_JX308222\_ChinaGuangxi\_2010}
\legA{cNavy}{372.32}{CVB5\_03001N\_JX017383\_ChinaHenan\_2011}
\legA{cLGray}{380.4}{CVB5\_COXB5/Henan/2010\_HQ998851\_ChinaHenan\_2010}
\legA{cLime}{388.48}{E6\_LR51A5\_HM852754\_Greece\_2006}
\legA{cOlive}{396.56}{E6\_LR61G3\_HM852755\_Greece\_2006}
\legA{cPurple}{404.64}{E6\_lytic\_E6U16283\_USA\_1994}
\legA{cCyan}{412.72}{E6\_E6/P735/2013/China\_KP289439\_ChinaJiangsu\_2013\_}
\legA{cRed}{420.8}{E6\_E6SD11CHN\_JX976771\_ChinaShangdong\_2011}
\legA{cOrange}{428.88}{E6\_2005-29-1\_KP266568\_ChinaJiangsu\_2009}
\legA{cDGreen}{436.96}{E6\_FIN09-NPA\_JQ929657\_Finland\_2009}
\legA{cYellow}{445.04}{E6\_Charles\_AF465517\_Sweden}
\legA{cPink}{453.12}{E6\_D'Amori\_AY302558\_USA}
\legA{black}{461.2}{E6\_ECHO6/HENAN/}
\legA{cBrown}{469.28}{E6\_FJLY2010327\_JQ729993\_ChinaFujian\_2010}
% legend b
\fill[black] (782,609) rectangle (1096,753);
\draw[black, fill=white, line width=0.6pt] (779,606) rectangle (1093,750);
\legB{cBlue}{612.3}{CVA9\_CVA9-Alberta-2010\_JQ837914\_Canada\_2010}
\legB{cDGray}{621.1}{CVB1\_CVB1SD2011CHN\_JX976769\_Chinashangdong\_2011}
\legB{cSalmon}{629.9}{CVB4\_BM24G/NM/CHN/2010\_KF781525\_ChinaMongolia\_2010\_\_}
\legB{cCrimson}{638.7}{CVB4\_CVB4/GX/10\_JX308222\_ChinaGuangxi\_2010}
\legB{cNavy}{647.5}{CVB5\_03001N\_JX017383\_ChinaHenan\_2011}
\legB{cLGray}{656.3}{CVB5\_COXB5/Henan/2010\_HQ998851\_ChinaHenan\_2010}
\legB{cLime}{665.1}{E6\_LR51A5\_HM852754\_Greece\_2006}
\legB{cOlive}{673.9}{E6\_LR61G3\_HM852755\_Greece\_2006}
\legB{cPurple}{682.7}{E6\_lytic\_E6U16283\_USA\_1994}
\legB{cCyan}{691.5}{E6\_E6/P735/2013/China\_KP289439\_ChinaJiangsu\_2013\_}
\legB{cOrange}{700.3}{E6\_2005-29-1\_KP266568\_ChinaJiangsu\_2009}
\legB{cDGreen}{709.1}{E6\_FIN09-NPA\_JQ929657\_Finland\_2009}
\legB{cYellow}{717.9}{E6\_Charles\_AF465517\_Sweden}
\legB{cPink}{726.7}{E6\_D'Amori\_AY302558\_USA}
\legB{black}{735.5}{E6\_ECHO6/HENAN/}
\legB{cBrownB}{744.3}{E6\_FJLY2010327\_JQ729993\_ChinaFujian\_2010}
% run settings
\node[anchor=east, font=\fontsize{4.3}{4.5}\selectfont, text=blue] at (1097,527) {Window: 400 bp, Step: 20 bp, GapStrip: On, Kimura (2-parameter), T/t: 2.0};
\node[anchor=east, font=\itshape\fontsize{4.2}{4.5}\selectfont, text=red] at (1099,1090) {Window: 400 bp, Step: 20 bp, GapStrip: On, Reps: 100, Kimura (2-parameter), T/t: 2.0, Neighbor-Joining};
% caption
\node[anchor=west, inner sep=0pt, font=\capfont\fontsize{9.3}{11}\selectfont, text=black!90] at (23,1120) {\textbf{Fig. 2} Similarity plot and bootscanning analysis queried by K727. \textbf{a} The similarity plot between K727 and other EVs. \textbf{b} The bootscanning analysis};
\node[anchor=west, inner sep=0pt, font=\capfont\fontsize{9.3}{11}\selectfont, text=black!90] at (23,1147) {for K727. The analyses were conducted via Simplot v3.5.1 using a sliding window of 400 nucleotides, moving in steps of 20 nucleotides};
\end{scope}
\end{tikzpicture}
\end{document}
